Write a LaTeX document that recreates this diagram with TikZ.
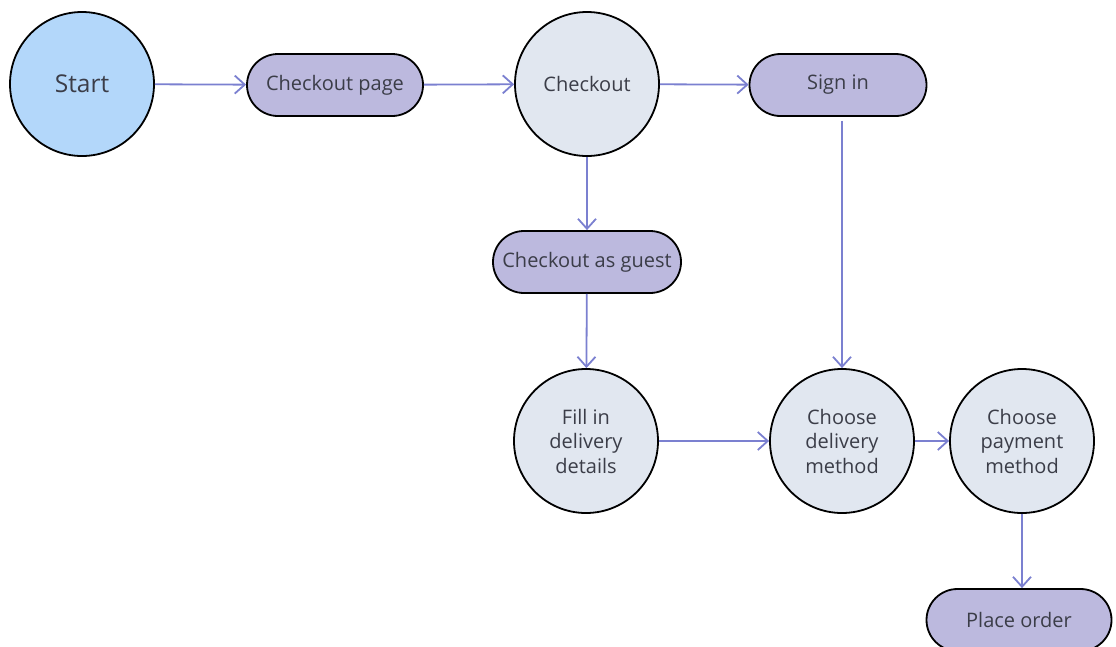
\documentclass[tikz,border=0pt]{standalone}
\usepackage{xcolor}
\usepackage{fontspec}
\setmainfont{Open Sans}
\usetikzlibrary{shapes.misc,arrows.meta}

\definecolor{startblue}{RGB}{179,215,250}
\definecolor{pagelilac}{RGB}{188,185,222}
\definecolor{stepgrey}{RGB}{225,231,240}
\definecolor{flowline}{RGB}{123,128,208}
\definecolor{labelgrey}{RGB}{59,61,72}

\tikzset{
  startnode/.style={circle, draw=black, line width=1.8pt, fill=startblue,
    minimum size=144pt, inner sep=0pt, text=labelgrey,
    font=\fontsize{24.5}{29}\selectfont},
  stepnode/.style={circle, draw=black, line width=1.8pt, fill=stepgrey,
    minimum size=144pt, inner sep=0pt, text=labelgrey, align=center,
    font=\fontsize{20}{24.5}\selectfont},
  pagenode/.style={rounded rectangle, draw=black, line width=1.8pt,
    fill=pagelilac, minimum height=62pt, inner sep=0pt, text=labelgrey,
    font=\fontsize{20}{24.5}\selectfont},
  flow/.style={draw=flowline, line width=1.8pt,
    -{Straight Barb[length=10pt,width=18pt,line width=1.8pt]}}
}

\begin{document}
\begin{tikzpicture}[x=1pt,y=-1pt]
\useasboundingbox (0,0) rectangle (1116,646);

% nodes
\node[startnode] (start) at (82,84) {Start};
\node[pagenode, minimum width=176pt] (cpage) at (335,85) {Checkout page};
\node[stepnode] (checkout) at (587,84) {Checkout};
\node[pagenode, minimum width=177pt] (signin) at (838,85) {Sign in};
\node[pagenode, minimum width=188pt] (guest) at (587,262) {Checkout as guest};
\node[stepnode] (fill) at (586,441) {Fill in\\delivery\\details};
\node[stepnode] (delivery) at (842,441) {Choose\\delivery\\method};
\node[stepnode] (payment) at (1022,441) {Choose\\payment\\method};
\node[pagenode, minimum width=185pt] (place) at (1019,620) {Place order};

% connectors
\draw[flow] (start) -- (cpage);
\draw[flow] (cpage) -- (checkout);
\draw[flow] (checkout) -- (signin);
\draw[flow] (checkout) -- (guest);
\draw[flow] (guest) -- (fill);
\draw[flow, shorten <=4pt] (signin.south -| delivery.north) -- (delivery.north);
\draw[flow] (fill) -- (delivery);
\draw[flow] (delivery) -- (payment);
\draw[flow] (payment.south) -- (payment.south |- place.north);
\end{tikzpicture}
\end{document}
